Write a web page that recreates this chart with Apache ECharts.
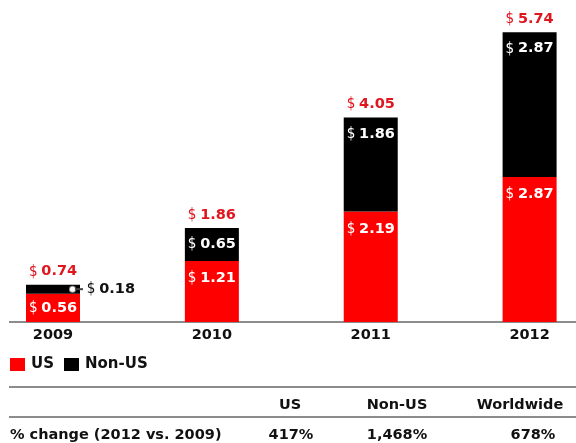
<!DOCTYPE html>
<html>
<head>
<meta charset="utf-8">
<script src="https://cdn.jsdelivr.net/npm/echarts@6/dist/echarts.min.js"></script>
<style>
html,body{margin:0;padding:0;background:#fff;}
#chart{width:576px;height:443px;}
</style>
</head>
<body>
<div id="chart"></div>
<script>
// ---- data ----
const years = ['2009', '2010', '2011', '2012'];
const usValues = [0.56, 1.21, 2.19, 2.87];
const nonUsValues = [0.18, 0.65, 1.86, 2.87];
const totalValues = [0.74, 1.86, 4.05, 5.74];
const seriesNames = ['US', 'Non-US'];
const tableHeaders = ['US', 'Non-US', 'Worldwide'];
const tableRowLabel = '% change (2012 vs. 2009)';
const tableValues = ['417%', '1,468%', '678%'];

// ---- styles ----
const FONT = "'DejaVu Sans', sans-serif";
const RED = '#fe0000';
const RED_TEXT = '#e0161e';
const BLACK = '#000000';
const TXT = '#111111';
const FS = 14.5;

function money(v) { return '{d|$} {v|' + v.toFixed(2) + '}'; }
function rich(color) {
  return {
    d: { fontFamily: "'Liberation Sans Narrow', 'DejaVu Sans Condensed', sans-serif", fontSize: 15, fontWeight: 'normal', color: color },
    v: { fontFamily: FONT, fontSize: FS, fontWeight: 'bold', color: color },
    c: { width: 5, height: 5, borderRadius: 3, backgroundColor: '#fff', borderColor: '#999', borderWidth: 1, verticalAlign: 'middle' },
    l: { width: 8, height: 2, backgroundColor: '#444', verticalAlign: 'middle' }
  };
}

const usData = usValues.map((v, i) => {
  if (i === 0) return { value: v, label: { position: 'inside', distance: 0 } };
  return v;
});
const nonUsData = nonUsValues.map((v, i) => {
  if (i === 0) return {
    value: v,
    label: {
      position: 'right', distance: 0, offset: [-10, 0],
      formatter: (p) => '{c|}{l|} {d|$} {v|' + p.value.toFixed(2) + '}',
      rich: rich(TXT)
    }
  };
  return v;
});

const chart = echarts.init(document.getElementById('chart'), null, { renderer: 'canvas' });

const graphic = [];
const lineStyle = { stroke: '#8c8c8c', lineWidth: 2 };
[322, 387, 417].forEach(y => {
  graphic.push({ type: 'line', shape: { x1: 9, y1: y, x2: 576, y2: y }, style: lineStyle, z: 0 });
});
const headerX = [290, 397, 520];
const valueX = [291, 397, 533];
tableHeaders.forEach((h, i) => {
  graphic.push({ type: 'text', x: headerX[i], y: 405,
    style: { text: h, font: 'bold 14.5px ' + FONT, fill: TXT, textAlign: 'center', textVerticalAlign: 'middle' } });
});
graphic.push({ type: 'text', x: 10, y: 435,
  style: { text: tableRowLabel, font: 'bold 14.5px ' + FONT, fill: TXT, textAlign: 'left', textVerticalAlign: 'middle' } });
tableValues.forEach((t, i) => {
  graphic.push({ type: 'text', x: valueX[i], y: 435,
    style: { text: t, font: 'bold 14.5px ' + FONT, fill: TXT, textAlign: 'center', textVerticalAlign: 'middle' } });
});

chart.setOption({
  animation: false,
  backgroundColor: '#fff',
  textStyle: { fontFamily: FONT },
  grid: { left: 53, right: 46.4, top: 19, bottom: 121, containLabel: false },
  legend: {
    data: seriesNames,
    left: 10, top: 357, padding: 0,
    icon: 'rect', itemWidth: 15, itemHeight: 13, itemGap: 10,
    textStyle: { fontFamily: FONT, fontSize: 15, fontWeight: 'bold', color: TXT, padding: [0, 0, 0, 1] }
  },
  xAxis: {
    type: 'category', data: years, boundaryGap: false,
    axisLine: { show: false }, axisTick: { show: false },
    axisLabel: { fontFamily: FONT, fontSize: 14.5, fontWeight: 'bold', color: TXT, margin: 6 },
    splitLine: { show: false }
  },
  yAxis: { type: 'value', min: 0, max: 6, show: false, splitLine: { show: false } },
  graphic: graphic,
  series: [
    {
      name: 'US', type: 'bar', stack: 'total', barWidth: 54,
      itemStyle: { color: RED },
      label: { show: true, position: 'insideTop', distance: 10,
        formatter: (p) => money(p.value), rich: rich('#ffffff') },
      data: usData, z: 2
    },
    {
      name: 'Non-US', type: 'bar', stack: 'total', barWidth: 54,
      itemStyle: { color: BLACK },
      label: { show: true, position: 'insideTop', distance: 9,
        formatter: (p) => money(p.value), rich: rich('#ffffff') },
      data: nonUsData, z: 2
    },
    {
      name: 'Total', type: 'scatter', data: totalValues,
      symbol: 'circle', symbolSize: 1,
      itemStyle: { color: 'rgba(0,0,0,0)', opacity: 1 },
      label: { show: true, position: 'top', distance: 5, opacity: 1,
        formatter: (p) => money(p.value), rich: rich(RED_TEXT) },
      z: 3, silent: true
    }
  ]
});
</script>
</body>
</html>
